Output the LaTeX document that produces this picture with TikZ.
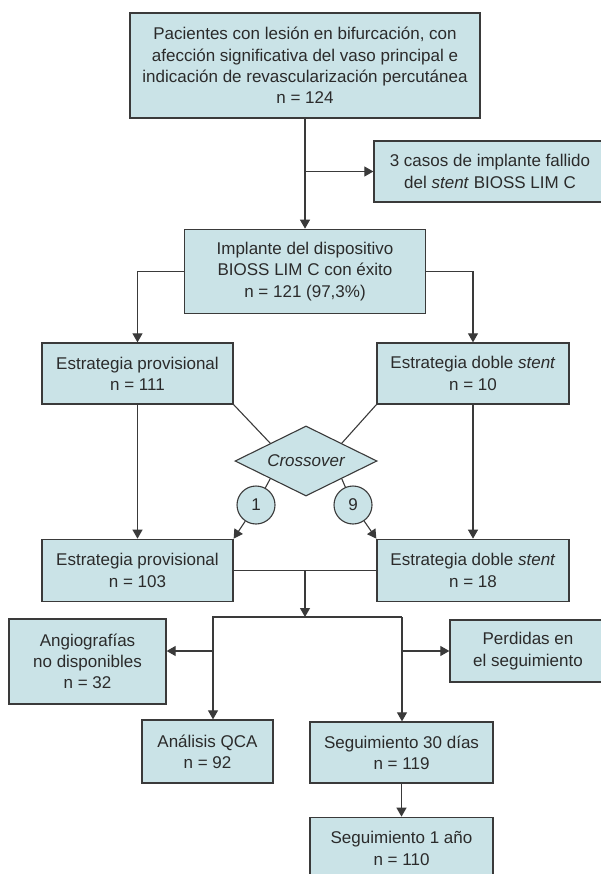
\documentclass[tikz,border=0pt]{standalone}
\usepackage{fontspec}
\setmainfont{Liberation Sans}
\usepackage{xcolor}
\usepackage{tikz}
\usetikzlibrary{
    arrows.meta,
    calc,
    positioning,
    shapes.geometric
}
\definecolor{flowfill}{HTML}{CAE3E7}
\definecolor{flowline}{HTML}{3A3A3A}
\definecolor{flowtext}{HTML}{2B2B2B}
\tikzstyle{arrow}=[line width=1.1pt,draw=flowline,-{Triangle[length=9pt,width=10pt]}]
\tikzstyle{link}=[line width=1.1pt,draw=flowline]

\begin{document}
\begin{tikzpicture}[
    x=1pt,y=-1pt,
    node distance=20pt,
    box/.style={
        rectangle,
        draw=flowline,
        fill=flowfill,
        line width=1.3pt,
        inner sep=0pt,
        align=center,
        text=flowtext,
        font=\fontsize{17pt}{21.3pt}\selectfont
    },
    decision/.style={
        diamond,
        draw=flowline,
        fill=flowfill,
        line width=1.1pt,
        aspect=2,
        inner sep=0pt,
        minimum width=142pt,
        minimum height=70pt,
        text=flowtext,
        font=\fontsize{17pt}{21.3pt}\selectfont\itshape
    },
    count/.style={
        circle,
        draw=flowline,
        fill=flowfill,
        line width=1.1pt,
        inner sep=0pt,
        minimum size=38pt,
        text=flowtext,
        font=\fontsize{17pt}{21.3pt}\selectfont
    }
]
\useasboundingbox (0,0) rectangle (601,874);
\clip (0,0) rectangle (601,874);

\node[box,minimum width=350pt,minimum height=105pt] (patients) at (305,65.5)
{Pacientes con lesión en bifurcación, con\\afección significativa del vaso principal e\\
indicación de revascularización percutánea\\n = 124};
\node[box,minimum width=232pt,minimum height=61pt] (failed) at (490,171.5)
{3 casos de implante fallido\\del \textit{stent} BIOSS LIM C};
\node[box,minimum width=241pt,minimum height=84pt,below=110pt of patients] (implant)
{Implante del dispositivo\\BIOSS LIM C con éxito\\n = 121 (97,3\%)};
\node[box,minimum width=191pt,minimum height=61pt] (prov111) at (137.5,373.5)
{Estrategia provisional\\n = 111};
\node[box,minimum width=192pt,minimum height=61pt] (double10) at (473,373.5)
{Estrategia doble \textit{stent}\\n = 10};
\node[decision] (cross) at (306,461) {Crossover};
\node[count] (one) at (256,505) {1};
\node[count] (nine) at (353,505) {9};
\node[box,minimum width=191pt,minimum height=62pt,below=134pt of prov111] (prov103)
{Estrategia provisional\\n = 103};
\node[box,minimum width=192pt,minimum height=62pt,below=134pt of double10] (double18)
{Estrategia doble \textit{stent}\\n = 18};
\node[box,minimum width=157pt,minimum height=85pt] (angio) at (87.5,661.5)
{Angiografías\\no disponibles\\n = 32};
\node[box,minimum width=156pt,minimum height=62pt] (lost) at (528,651)
{Perdidas en\\el seguimiento};
\node[box,minimum width=131pt,minimum height=63pt] (qca) at (207.5,751.5)
{Análisis QCA\\n = 92};
\node[box,minimum width=183pt,minimum height=61pt] (seg30) at (401.5,752.5)
{Seguimiento 30 días\\n = 119};
\node[box,minimum width=183pt,minimum height=62pt,below=33pt of seg30] (seg1)
{Seguimiento 1 año\\n = 110};

\coordinate (join) at ($(prov103.east)!0.5!(double18.west)$);
\coordinate (forkL) at (213,617);
\coordinate (forkR) at (402,617);

\draw[arrow] (patients) -- (implant);
\draw[arrow] (patients.south |- failed.west) -- (failed.west);
\draw[arrow] (implant.west) -| (prov111.north);
\draw[arrow] (implant.east) -| (double10.north);
\draw[link] (prov111.south east) -- (cross.north west);
\draw[link] (double10.south west) -- (cross.north east);
\draw[link] (cross.south west) -- (one);
\draw[arrow] (one) -- (prov103.north east);
\draw[link] (cross.south east) -- (nine);
\draw[arrow] (nine) -- (double18.north west);
\draw[arrow] (prov111) -- (prov103);
\draw[arrow] (double10) -- (double18);
\draw[link] (prov103.east) -- (double18.west);
\draw[arrow] (join) -- (join |- forkL);
\draw[arrow] (forkR) -- (forkL) -- (forkL |- qca.north);
\draw[arrow] (forkR) -- (forkR |- seg30.north);
\draw[arrow] (forkL |- lost.west) -- (angio.east |- lost.west);
\draw[arrow] (forkR |- lost.west) -- (lost.west);
\draw[arrow] (seg30) -- (seg1);
\end{tikzpicture}
\end{document}
